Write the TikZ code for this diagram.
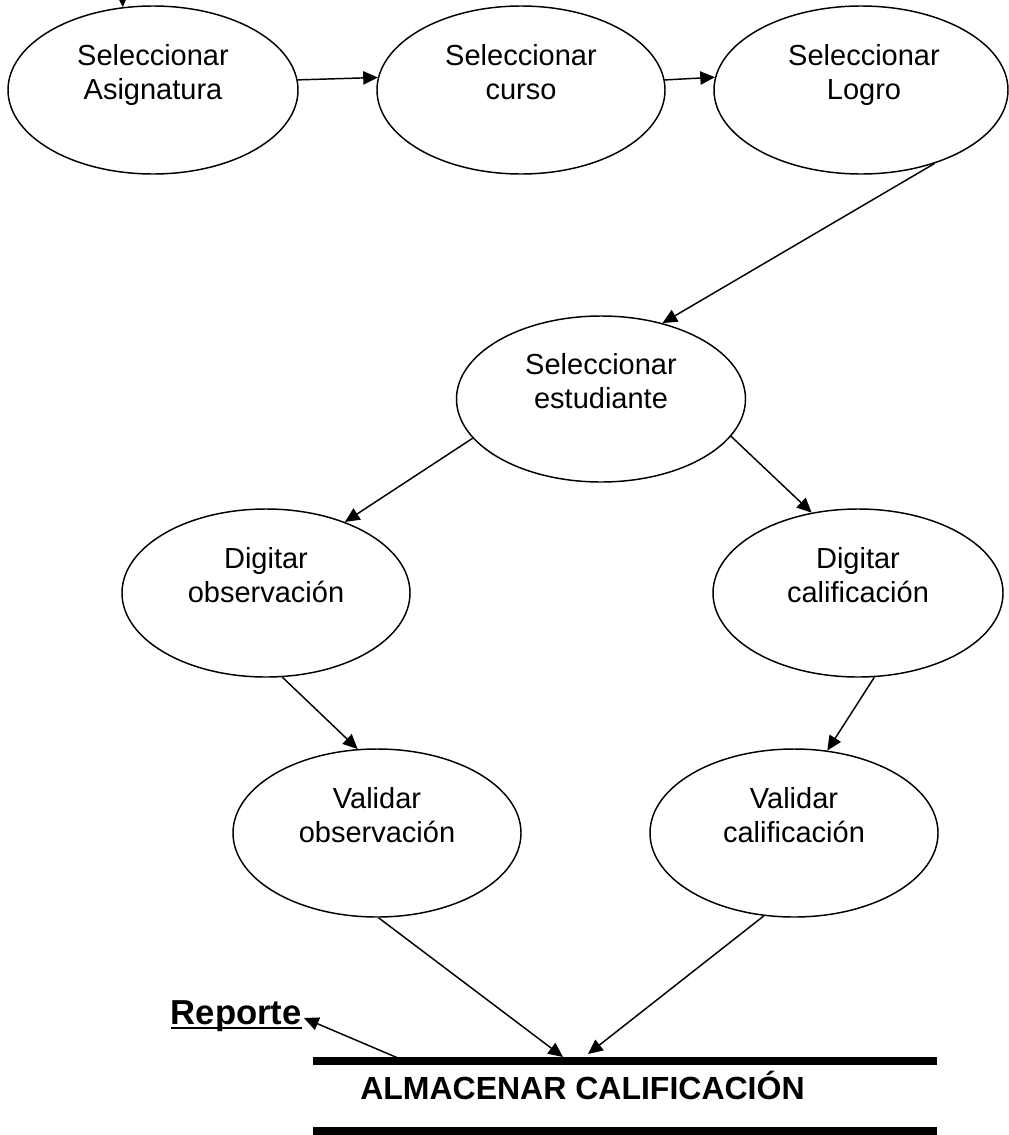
\documentclass[tikz,border=0pt]{standalone}
\usepackage{fontspec}
\setmainfont{Liberation Sans}
\usetikzlibrary{shapes.geometric,arrows.meta}
\begin{document}
\begin{tikzpicture}[x=0.75pt,y=-0.75pt,
  proc/.style n args={2}{ellipse, draw, line width=1.1pt, inner sep=0pt,
    minimum width=0.75pt*#1, minimum height=0.75pt*#2},
  lbl/.style={align=center, inner sep=0pt,
    font=\fontsize{21.75pt}{25.5pt}\selectfont},
  flow/.style={line width=1.1pt, -{Triangle[length=11pt,width=10pt]}},
  rail/.style={line width=5.4pt},
  boldtxt/.style={inner sep=0pt, font=\fontsize{24pt}{28pt}\selectfont\bfseries},
]
\useasboundingbox (0,0) rectangle (1009,1135);

% processes
\node[proc={290}{168}] (asig) at (153,90)  {};
\node[proc={288}{168}] (curso) at (521,90) {};
\node[proc={294}{168}] (logro) at (861,90) {};
\node[proc={289}{166}] (est) at (601,399)  {};
\node[proc={288}{168}] (dobs) at (266,593) {};
\node[proc={290}{168}] (dcal) at (858,593) {};
\node[proc={288}{168}] (vobs) at (377,833) {};
\node[proc={288}{168}] (vcal) at (794,833) {};

% process labels
\node[lbl] (asig-t)  at (153,76)  {\strut Seleccionar\\\strut Asignatura};
\node[lbl] (curso-t) at (521,76)  {\strut Seleccionar\\\strut curso};
\node[lbl] (logro-t) at (864,76)  {\strut Seleccionar\\\strut Logro};
\node[lbl] (est-t)   at (601,385) {\strut Seleccionar\\\strut estudiante};
\node[lbl] (dobs-t)  at (266,579) {\strut Digitar\\\strut observación};
\node[lbl] (dcal-t)  at (858,579) {\strut Digitar\\\strut calificación};
\node[lbl] (vobs-t)  at (377,819) {\strut Validar\\\strut observación};
\node[lbl] (vcal-t)  at (794,819) {\strut Validar\\\strut calificación};

% data store
\coordinate (st-tl) at (313,1061);
\coordinate (st-tr) at (937,1061);
\coordinate (st-bl) at (313,1131);
\coordinate (st-br) at (937,1131);
\draw[rail] (st-tl) -- (st-tr);
\draw[rail] (st-bl) -- (st-br);
\node[boldtxt, anchor=base west] (store) at (360,1099) {ALMACENAR CALIFICACIÓN};

% report
\node[boldtxt, font=\fontsize{26pt}{30pt}\selectfont\bfseries, anchor=base east] (rep) at (302,1024)
  {\setbox0\hbox{Reporte}\rlap{\rule[-3.8pt]{\wd0}{1.7pt}}\box0};

% connection points
\coordinate (entry) at (122,-12);
\coordinate (in-o) at (563,1057);
\coordinate (in-c) at (588,1054);
\coordinate (out-r) at (398,1058);
\coordinate (rep-tip) at (304,1018);

% flows
\draw[flow] (entry) -- (asig.110.7);
\draw[flow] (asig.4.4) -- (curso.175.6);
\draw[flow] (curso.4.4) -- (logro.175.7);
\draw[flow] (logro.-45) -- (est.51.2);
\draw[flow] (est.-163.1) -- (dobs.42.7);
\draw[flow] (est.-16.7) -- (dcal.120.3);
\draw[flow] (dobs.-79.2) -- (vobs.103.4);
\draw[flow] (dcal.-79.2) -- (vcal.68.9);
\draw[flow] (vobs.-89.3) -- (in-o);
\draw[flow] (vcal.-110.3) -- (in-c);
\draw[flow] (out-r) -- (rep-tip);
\end{tikzpicture}
\end{document}
